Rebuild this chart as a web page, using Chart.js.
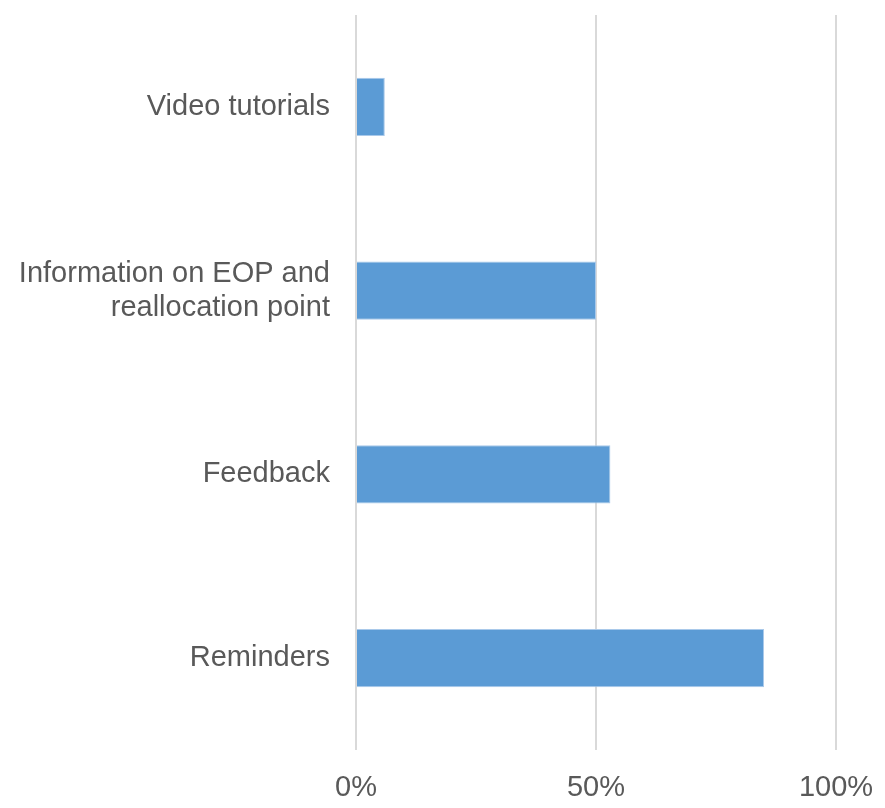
<!DOCTYPE html>
<html>
<head>
<meta charset="utf-8">
<script src="https://cdn.jsdelivr.net/npm/chart.js@4/dist/chart.umd.min.js"></script>
<style>
    html, body { margin: 0; padding: 0; background: #ffffff; }
    #wrap { width: 885px; height: 808px; }
</style>
</head>
<body>
<div id="wrap"><canvas id="support_chart"></canvas></div>
<script>
// Chart labels
const supportLabels = [
    'Video tutorials',
    ['Information on EOP and', 'reallocation point'],
    'Feedback',
    'Reminders'
];

// Share of respondents, in percent
const supportShares = [6, 50, 53, 85];

// X axis ticks
const axisTicks = [0, 50, 100];

let supportCtx = document.getElementById('support_chart');

const supportData = {
    labels: supportLabels,
    datasets: [{
        data: supportShares,
        backgroundColor: '#5b9bd5',
        borderColor: '#a9c9ea',
        borderWidth: 1,
        categoryPercentage: 1,
        barPercentage: 0.318
    }]
};

const supportConfig = {
    type: 'bar',
    data: supportData,
    options: {
        indexAxis: 'y',
        responsive: true,
        maintainAspectRatio: false,
        animation: false,
        layout: {
            padding: { top: 15, right: 49, bottom: 0, left: 0 }
        },
        plugins: {
            legend: { display: false },
            tooltip: { enabled: false }
        },
        scales: {
            x: {
                min: 0,
                max: 100,
                afterBuildTicks: ( axis ) => {
                    axis.ticks = axisTicks.map( ( v ) => ({ value: v }) );
                },
                afterFit: ( axis ) => {
                    axis.height = 58;
                    axis.paddingLeft = 0;
                    axis.paddingRight = 0;
                },
                grid: {
                    color: '#d9d9d9',
                    lineWidth: 2,
                    drawTicks: false
                },
                border: { display: false },
                ticks: {
                    padding: 21,
                    color: '#595959',
                    font: { family: '"Liberation Sans", Arial, sans-serif', size: 29 },
                    callback: ( v ) => v + '%'
                }
            },
            y: {
                afterFit: ( axis ) => {
                    axis.width = 356;
                    axis.paddingTop = 0;
                    axis.paddingBottom = 0;
                },
                grid: { display: false },
                border: { display: false },
                ticks: {
                    padding: 18,
                    color: '#595959',
                    font: { family: '"Liberation Sans", Arial, sans-serif', size: 29, lineHeight: 1.18 }
                }
            }
        }
    }
};

if ( supportCtx )
    new Chart(supportCtx, supportConfig);
</script>
</body>
</html>
